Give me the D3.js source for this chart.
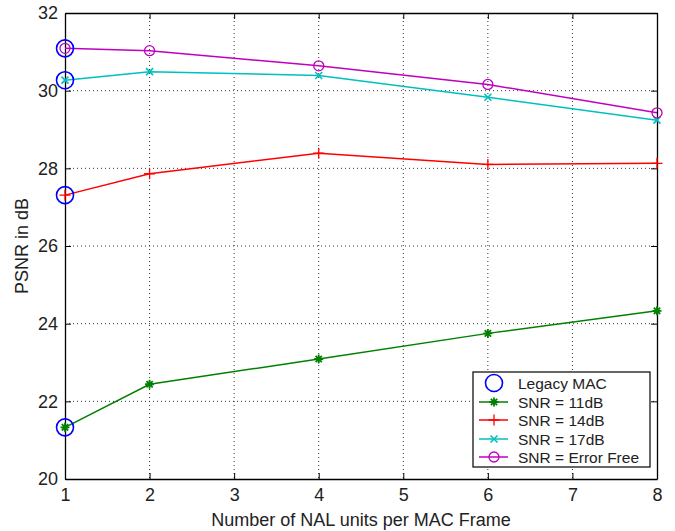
<!DOCTYPE html>
<html><head><meta charset="utf-8">
<script src="https://cdn.jsdelivr.net/npm/d3@7"></script>
<style>body{margin:0;background:#fff}svg{display:block}text{font-family:"Liberation Sans",Arial,Helvetica,sans-serif}</style>
</head><body>
<script>
const xValues = [1, 2, 4, 6, 8];
const snr11 = [21.33, 22.44, 23.09, 23.75, 24.33];
const snr14 = [27.31, 27.86, 28.39, 28.10, 28.13];
const snr17 = [30.27, 30.49, 30.39, 29.83, 29.24];
const snrErrorFree = [31.09, 31.03, 30.64, 30.16, 29.43];
const legacyX = [1, 1, 1, 1];
const legacyY = [21.33, 27.31, 30.27, 31.09];
const xTicks = [1, 2, 3, 4, 5, 6, 7, 8];
const yTicks = [20, 22, 24, 26, 28, 30, 32];
const seriesNames = ["SNR = 11dB", "SNR = 14dB", "SNR = 17dB", "SNR = Error Free"];
const legacyName = "Legacy MAC";
const xLabel = "Number of NAL units per MAC Frame";
const yLabel = "PSNR in dB";

const W = 675, H = 531;
const L = 65, R = 657, T = 13, B = 479;
const svg = d3.select("body").append("svg").attr("width", W).attr("height", H);
const x = d3.scaleLinear().domain([1, 8]).range([L, R]);
const y = d3.scaleLinear().domain([20, 32]).range([B, T]);

// grid
const grid = svg.append("g").attr("stroke", "#333").attr("stroke-width", 1).attr("stroke-dasharray", "1,3");
xTicks.slice(1, -1).forEach(t => grid.append("line").attr("x1", x(t)).attr("x2", x(t)).attr("y1", T).attr("y2", B));
yTicks.slice(1, -1).forEach(t => grid.append("line").attr("x1", L).attr("x2", R).attr("y1", y(t)).attr("y2", y(t)));

// axes (inward ticks, box)
const tl = 6;
const axB = svg.append("g").attr("transform", `translate(0,${B})`).call(d3.axisBottom(x).tickValues(xTicks).tickSizeInner(-tl).tickSizeOuter(0).tickPadding(9).tickFormat(d3.format("d")));
const axT = svg.append("g").attr("transform", `translate(0,${T})`).call(d3.axisTop(x).tickValues(xTicks).tickSizeInner(-tl).tickSizeOuter(0).tickFormat(""));
const axL = svg.append("g").attr("transform", `translate(${L},0)`).call(d3.axisLeft(y).tickValues(yTicks).tickSizeInner(-tl).tickSizeOuter(0).tickPadding(7).tickFormat(d3.format("d")));
const axR = svg.append("g").attr("transform", `translate(${R},0)`).call(d3.axisRight(y).tickValues(yTicks).tickSizeInner(-tl).tickSizeOuter(0).tickFormat(""));
[axB, axT, axL, axR].forEach(a => {
  a.select(".domain").attr("stroke", "#000").attr("stroke-width", 1.3);
  a.selectAll(".tick line").attr("stroke", "#000").attr("stroke-width", 1);
  a.selectAll("text").attr("fill", "#222").style("font-size", "18px").style("font-family", '"Liberation Sans",Arial,sans-serif');
});

// axis labels
svg.append("text").attr("x", (L + R) / 2).attr("y", 526).attr("text-anchor", "middle").attr("fill", "#222").style("font-size", "18px").text(xLabel);
svg.append("text").attr("transform", `translate(28,${(T + B) / 2}) rotate(-90)`).attr("text-anchor", "middle").attr("fill", "#222").style("font-size", "18px").text(yLabel);

const colors = ["#008000", "#ff0000", "#00bfbf", "#bf00bf"];
const markers = ["star", "plus", "cross", "circle"];
const allSeries = [snr11, snr14, snr17, snrErrorFree];

function drawMarker(g, type, cx, cy, color) {
  const s = g.append("g").attr("transform", `translate(${cx},${cy})`).attr("stroke", color).attr("fill", "none").attr("stroke-width", 1.3);
  if (type === "star") {
    const r = 4.5;
    s.append("path").attr("d", `M${-r},0H${r}M0,${-r}V${r}M${-r*0.7},${-r*0.7}L${r*0.7},${r*0.7}M${-r*0.7},${r*0.7}L${r*0.7},${-r*0.7}`).attr("stroke-width", 1.8);
  } else if (type === "plus") {
    const r = 5.5;
    s.append("path").attr("d", `M${-r},0H${r}M0,${-r}V${r}`);
  } else if (type === "cross") {
    const r = 3.5;
    s.append("path").attr("d", `M${-r},${-r}L${r},${r}M${-r},${r}L${r},${-r}`).attr("stroke-width", 1.6);
  } else if (type === "circle") {
    s.append("circle").attr("r", 5);
  } else if (type === "big") {
    s.append("circle").attr("r", 8.5).attr("stroke-width", 1.6);
  }
}

const line = d3.line().x(d => x(d[0])).y(d => y(d[1]));
allSeries.forEach((vals, i) => {
  const pts = xValues.map((xv, j) => [xv, vals[j]]);
  svg.append("path").datum(pts).attr("d", line).attr("fill", "none").attr("stroke", colors[i]).attr("stroke-width", 1.5);
  const mg = svg.append("g");
  pts.forEach(p => drawMarker(mg, markers[i], x(p[0]), y(p[1]), colors[i]));
});
const lg = svg.append("g");
legacyX.forEach((xv, i) => drawMarker(lg, "big", x(xv), y(legacyY[i]), "#0000ff"));

// legend
const lgX = 473, lgY = 372, lgW = 177, lgH = 95;
const leg = svg.append("g");
leg.append("rect").attr("x", lgX).attr("y", lgY).attr("width", lgW).attr("height", lgH).attr("fill", "#fff").attr("stroke", "#000").attr("stroke-width", 1.2);
const rowY = [383, 402, 420, 439, 457];
drawMarker(leg, "big", 494, rowY[0], "#0000ff");
leg.append("text").attr("x", 518).attr("y", rowY[0]).attr("dy", "0.36em").style("font-size", "15.5px").attr("fill", "#222").text(legacyName);
seriesNames.forEach((n, i) => {
  const yy = rowY[i + 1];
  leg.append("line").attr("x1", 479).attr("x2", 508).attr("y1", yy).attr("y2", yy).attr("stroke", colors[i]).attr("stroke-width", 1.5);
  drawMarker(leg, markers[i], 494, yy, colors[i]);
  leg.append("text").attr("x", 518).attr("y", yy).attr("dy", "0.36em").style("font-size", "15.5px").attr("fill", "#222").text(n);
});
</script>
</body></html>
